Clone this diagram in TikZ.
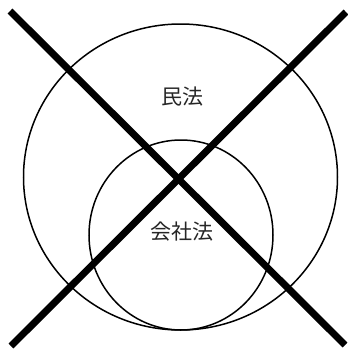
\documentclass[tikz,border=0pt]{standalone}
\usepackage{fontspec}
\newfontfamily\cjk{Noto Sans CJK JP}
\begin{document}
\begin{tikzpicture}[x=1pt,y=-1pt,
  ring/.style={draw=black,line width=1.5pt},
  cross/.style={draw=black,line width=7pt},
  lbl/.style={font=\cjk\fontsize{21}{24}\selectfont,text=black!85,inner sep=0pt}]
\useasboundingbox (0,0) rectangle (348,349);
\draw[ring] (180.5,177) ellipse [x radius=157, y radius=153];
\draw[ring] (181,235) ellipse [x radius=92, y radius=95];
\node[lbl] (minpo) at (182,97) {民法};
\node[lbl] (kaisha) at (182,232) {会社法};
\coordinate (tl) at (10,11);
\coordinate (br) at (345,345);
\coordinate (tr) at (346,12);
\coordinate (bl) at (11,346);
\draw[cross] (tl) -- (br);
\draw[cross] (tr) -- (bl);
\end{tikzpicture}
\end{document}
